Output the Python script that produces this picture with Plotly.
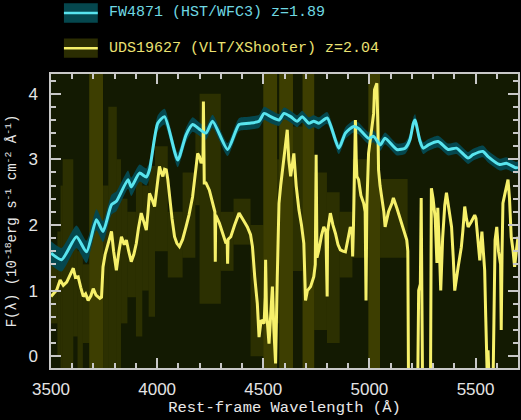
import plotly.graph_objects as go

# ---------------- data ----------------
# FW4871 (HST/WFC3) z=1.89  -- cyan spectrum
cyan_wl = [3500, 3550, 3620, 3667, 3714, 3745, 3785, 3808, 3863, 3878, 3917, 3949, 3964, 4003, 4035,
           4097, 4136, 4167, 4199, 4230, 4261, 4332, 4386, 4433, 4480, 4504, 4535, 4574, 4598, 4629,
           4660, 4683, 4715, 4738, 4762, 4801, 4856, 4887, 4926, 4949, 4996, 5020, 5051, 5074, 5129,
           5168, 5191, 5207, 5215, 5222, 5238, 5254, 5278, 5324, 5371, 5410, 5465, 5488, 5535, 5559,
           5614, 5645, 5692, 5700]
cyan_f = [1.57, 1.47, 1.82, 1.59, 2.08, 1.90, 2.31, 2.36, 2.69, 2.58, 2.79, 2.73, 2.84, 3.55, 3.65,
          2.99, 3.37, 3.53, 3.46, 3.40, 3.58, 3.15, 3.53, 3.55, 3.58, 3.70, 3.65, 3.60, 3.70, 3.65,
          3.58, 3.65, 3.55, 3.58, 3.55, 3.63, 3.17, 3.40, 3.50, 3.47, 3.32, 3.35, 3.22, 3.32, 3.15,
          3.17, 3.30, 3.55, 3.60, 3.52, 3.28, 3.17, 3.22, 3.27, 3.15, 3.17, 3.02, 3.07, 3.12, 3.04,
          2.92, 2.94, 2.87, 2.88]
cyan_err = [0.18, 0.18, 0.17, 0.17, 0.16, 0.16, 0.15, 0.15, 0.14, 0.14, 0.13, 0.13, 0.13, 0.12, 0.12,
            0.11, 0.11, 0.11, 0.10, 0.10, 0.10, 0.10, 0.10, 0.10, 0.10, 0.10, 0.10, 0.09, 0.09, 0.09,
            0.09, 0.09, 0.09, 0.09, 0.09, 0.09, 0.09, 0.09, 0.09, 0.09, 0.09, 0.09, 0.09, 0.09, 0.09,
            0.09, 0.09, 0.09, 0.09, 0.09, 0.09, 0.09, 0.09, 0.09, 0.09, 0.09, 0.09, 0.09, 0.09, 0.09,
            0.09, 0.09, 0.09, 0.09]

# UDS19627 (VLT/XShooter) z=2.04  -- yellow spectrum
yel_wl = [3500, 3510, 3527, 3543, 3558, 3574, 3590, 3605, 3615, 3628, 3640, 3652, 3663, 3675, 3688,
          3699, 3712, 3730, 3738, 3745, 3755, 3769, 3785, 3795, 3808, 3820, 3832, 3845, 3855, 3866,
          3878, 3890, 3902, 3912, 3925, 3937, 3949, 3957, 3964, 3975, 3988, 4000, 4011, 4019, 4027,
          4035, 4043, 4050, 4058, 4070, 4082, 4093, 4105, 4120, 4136, 4150, 4167, 4180, 4191, 4200,
          4207, 4214, 4216, 4218, 4220, 4222, 4230, 4246, 4260, 4269, 4272, 4274, 4276, 4293, 4310,
          4324, 4330, 4332, 4334, 4347, 4365, 4386, 4405, 4425, 4440, 4449, 4460, 4472, 4480, 4490,
          4504, 4509, 4511, 4515, 4527, 4535, 4543, 4550, 4558, 4566, 4574, 4582, 4590, 4600, 4613,
          4620, 4629, 4636, 4644, 4655, 4668, 4680, 4691, 4699, 4708, 4723, 4738, 4745, 4749, 4753,
          4762, 4775, 4785, 4795, 4799, 4801, 4803, 4816, 4828, 4840, 4852, 4863, 4875, 4887, 4900,
          4910, 4918, 4921, 4925, 4930, 4934, 4938, 4941, 4949, 4960, 4973, 4980, 4984, 4988, 4996,
          5005, 5012, 5020, 5024, 5035, 5040, 5043, 5050, 5059, 5068, 5074, 5090, 5106, 5113, 5130,
          5145, 5160, 5176, 5181, 5184, 5228, 5232, 5240, 5244, 5247, 5250, 5288, 5292, 5300, 5310,
          5318, 5322, 5330, 5336, 5345, 5355, 5363, 5375, 5387, 5395, 5402, 5418, 5433, 5440, 5449,
          5457, 5465, 5480, 5496, 5502, 5508, 5514, 5520, 5530, 5537, 5543, 5548, 5551, 5555, 5559,
          5563, 5583, 5588, 5592, 5600, 5608, 5618, 5621, 5625, 5629, 5640, 5653, 5660, 5668, 5677,
          5684, 5692, 5700]
yel_f = [0.91, 0.95, 1.01, 1.16, 1.08, 1.13, 1.25, 1.34, 1.20, 1.21, 1.05, 0.91, 0.95, 0.85, 0.92,
         1.03, 0.93, 0.88, 0.90, 1.36, 1.55, 1.72, 1.90, 1.60, 1.31, 1.60, 1.82, 1.70, 1.77, 1.60,
         1.44, 1.55, 1.72, 1.95, 2.18, 2.05, 1.92, 2.20, 2.48, 2.40, 2.28, 2.60, 2.89, 2.80, 2.74,
         2.85, 2.84, 2.70, 2.43, 2.10, 1.82, 1.72, 1.67, 1.78, 1.97, 2.15, 2.43, 2.80, 3.09, 3.04,
         2.94, 3.00, 3.00, 3.88, 3.00, 2.64, 2.64, 2.53, 2.35, 2.23, 2.20, 1.44, 2.15, 2.03, 1.85,
         1.72, 1.75, 1.41, 1.78, 1.82, 2.00, 2.18, 2.08, 1.97, 1.85, 1.67, 1.20, 0.80, 0.29, 0.55,
         0.50, 0.90, 1.47, 0.70, 0.19, 0.60, 1.06, 0.40, -0.11, 1.20, 2.33, 2.60, 2.84, 3.10, 3.45,
         3.00, 2.74, 2.90, 3.09, 2.60, 2.23, 2.00, 1.72, 0.85, 1.00, 1.06, 1.21, 1.40, 3.07, 1.50,
         1.62, 1.85, 1.97, 1.90, 1.00, 0.91, 1.90, 2.18, 2.00, 1.87, 1.70, 1.62, 1.60, 1.59, 1.80,
         1.97, 1.90, 1.52, 2.00, 3.00, 3.60, 3.00, 2.74, 2.69, 2.45, 2.33, 2.20, 0.85, 2.30, 3.09,
         3.30, 3.45, 3.70, 4.06, 4.16, 3.50, 2.84, 2.60, 2.43, 2.20, 1.97, 2.20, 2.33, 2.41, 2.25,
         2.08, 1.95, 1.77, 1.60, -0.30, -0.30, 1.00, 1.10, 2.41, 1.00, -0.30, -0.30, 2.56, 2.40, 2.10,
         1.42, 2.26, 1.60, 1.00, 1.80, 2.30, 2.49, 2.20, 1.97, 1.50, 1.00, 1.36, 1.66, 1.90, 2.28,
         2.10, 1.97, 2.05, 2.15, 2.10, 1.87, 1.60, 1.46, 1.90, 1.50, 1.31, 0.60, -0.30, -0.30, 0.09,
         -0.30, -0.30, 1.50, 1.77, 1.97, 1.60, 1.40, 0.40, 1.60, 2.33, 2.50, 2.69, 2.40, 1.82, 1.60,
         1.36, 1.60, 1.82]

# partial error-envelope segments of the yellow spectrum: start, end, lower, upper
env_start = [3500, 3530, 3545, 3555, 3605, 3625, 3650, 3745, 3770, 3810, 3830, 3860, 3900, 3930, 3960,
             3990, 4050, 4120, 4180, 4200, 4300, 4360, 4440, 4565, 4640, 4740, 4800, 4860, 4920, 5050]
env_end = [3530, 3545, 3555, 3605, 3625, 3650, 3680, 3770, 3810, 3830, 3860, 3900, 3930, 3960, 3990,
           4050, 4120, 4180, 4200, 4300, 4360, 4440, 4500, 4575, 4685, 4800, 4860, 4920, 4995, 5180]
env_lo = [0.5, 0.0, -0.3, -0.3, 0.3, -0.3, 0.2, -0.3, -0.3, -0.3, 0.5, 0.9, 0.3, 1.0, 0.6,
          1.6, 1.2, 1.5, 2.3, 0.8, 1.3, 1.7, 0.0, 0.5, 1.3, 0.4, 0.2, 1.2, 1.5, 1.5]
env_hi = [1.5, 1.9, 2.6, 3.0, 1.9, 1.6, 1.4, 2.6, 3.8, 3.0, 2.4, 2.2, 2.8, 2.6, 2.9,
          3.2, 2.2, 2.8, 3.4, 4.0, 2.2, 2.4, 2.0, 3.0, 3.5, 2.8, 2.5, 2.2, 3.0, 2.7]
# full-height bad-data regions of the yellow spectrum: start, end
full_start = [3680, 4500, 4575, 4685, 4995]
full_end = [3745, 4565, 4640, 4740, 5050]

legend_labels = ["FW4871 (HST/WFC3) z=1.89", "UDS19627 (VLT/XShooter) z=2.04"]
x_ticks = [3500, 4000, 4500, 5000, 5500]
y_ticks = [0, 1, 2, 3, 4]

# ---------------- styling ----------------
BG_PLOT = "#131a02"
CYAN = "#58e4ee"
TEAL = "#05474e"
YEL = "#f6f06a"
ENV = "rgba(120,115,0,0.25)"
FULL = "rgba(135,128,0,0.36)"
AXC = "#c8c8c8"

fig = go.Figure()


def step_band(starts, ends, los, his):
    xs, lo_s, hi_s = [], [], []
    for s, e, lo, hi in zip(starts, ends, los, his):
        xs += [s, e, None]
        lo_s += [lo, lo, None]
        hi_s += [hi, hi, None]
    return xs, lo_s, hi_s


# partial envelope: one closed polygon per segment
for s, e, lo, hi in zip(env_start, env_end, env_lo, env_hi):
    fig.add_trace(go.Scatter(x=[s, e, e, s, s], y=[lo, lo, hi, hi, lo], mode="lines",
                             line=dict(width=0), fill="toself", fillcolor=ENV,
                             showlegend=False, hoverinfo="skip"))
# full-height regions
for s, e in zip(full_start, full_end):
    fig.add_trace(go.Scatter(x=[s, e, e, s, s], y=[-0.5, -0.5, 5, 5, -0.5], mode="lines",
                             line=dict(width=0), fill="toself", fillcolor=FULL,
                             showlegend=False, hoverinfo="skip"))

# cyan error band
c_lo = [f - e for f, e in zip(cyan_f, cyan_err)]
c_hi = [f + e for f, e in zip(cyan_f, cyan_err)]
fig.add_trace(go.Scatter(x=cyan_wl, y=c_lo, mode="lines", line=dict(width=0, shape="spline", smoothing=0.6),
                         showlegend=False, hoverinfo="skip"))
fig.add_trace(go.Scatter(x=cyan_wl, y=c_hi, mode="lines", line=dict(width=0, shape="spline", smoothing=0.6),
                         fill="tonexty", fillcolor=TEAL, showlegend=False, hoverinfo="skip"))

# yellow spectrum
fig.add_trace(go.Scatter(x=yel_wl, y=yel_f, mode="lines", line=dict(color=YEL, width=3),
                         name=legend_labels[1], showlegend=False))
# cyan spectrum
fig.add_trace(go.Scatter(x=cyan_wl, y=cyan_f, mode="lines",
                         line=dict(color=CYAN, width=3, shape="spline", smoothing=0.6),
                         name=legend_labels[0], showlegend=False))

# ---------------- legend (drawn as layout decoration) ----------------
leg_y = [1.2075, 1.088]
leg_box_col = [TEAL, "#2b2d02"]
leg_line_col = [CYAN, YEL]
leg_txt_col = ["#6fd8e2", "#ebe272"]
shapes = []
annotations = []
for i, lab in enumerate(legend_labels):
    shapes.append(dict(type="rect", xref="paper", yref="paper", x0=0.0277, x1=0.1002,
                       y0=leg_y[i] - 0.033, y1=leg_y[i] + 0.033, fillcolor=leg_box_col[i],
                       line=dict(width=0), layer="above"))
    shapes.append(dict(type="line", xref="paper", yref="paper", x0=0.0277, x1=0.1002,
                       y0=leg_y[i], y1=leg_y[i], line=dict(color=leg_line_col[i], width=2.5),
                       layer="above"))
    annotations.append(dict(xref="paper", yref="paper", x=0.1194, y=leg_y[i], text=lab,
                            showarrow=False, xanchor="left", yanchor="middle",
                            font=dict(family="Liberation Mono", size=15, color=leg_txt_col[i])))

axis_common = dict(
    showline=True, linecolor=AXC, linewidth=1.5, mirror="ticks",
    ticks="inside", tickcolor=AXC, tickwidth=1.5, ticklen=10,
    showgrid=False, zeroline=False,
    tickfont=dict(family="Liberation Sans", size=17, color="#e4e4e4"),
)

fig.update_layout(
    width=521, height=420,
    margin=dict(l=51, r=1, t=74, b=52),
    paper_bgcolor="black", plot_bgcolor=BG_PLOT,
    shapes=shapes, annotations=annotations,
    xaxis=dict(range=[3500, 5700], tickvals=x_ticks, ticklabelstandoff=5,
               minor=dict(dtick=100, tick0=3500, ticks="inside", ticklen=5, tickcolor=AXC, tickwidth=1.5),
               title=dict(text="Rest-frame Wavelength (Å)", standoff=2,
                          font=dict(family="Liberation Mono", size=15.5, color="#e8e8e8")),
               **axis_common),
    yaxis=dict(range=[-0.18, 4.3], tickvals=y_ticks, ticklabelstandoff=8,
               minor=dict(dtick=0.2, tick0=0, ticks="inside", ticklen=5, tickcolor=AXC, tickwidth=1.5),
               title=dict(text="F(λ) (10<sup>-18</sup>erg s<sup>-1</sup> cm<sup>-2</sup> Å<sup>-1</sup>)",
                          standoff=8,
                          font=dict(family="Liberation Mono", size=14, color="#e8e8e8")),
               **axis_common),
)

fig.write_html("out.html")
